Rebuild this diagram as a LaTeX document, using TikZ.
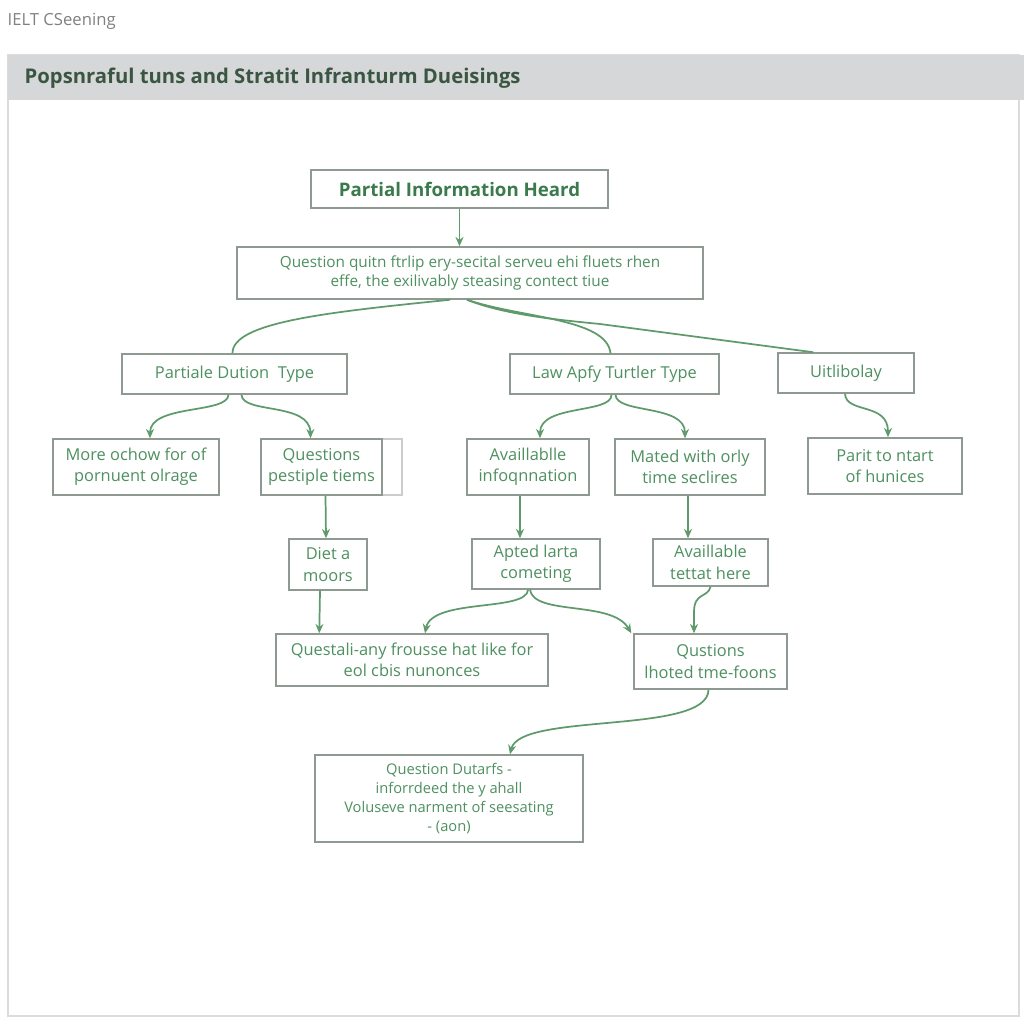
\documentclass[tikz,border=0pt]{standalone}
\usepackage{fontspec}
\setmainfont{Open Sans}
\usetikzlibrary{arrows.meta,calc}
\definecolor{boxline}{HTML}{8E9A91}
\definecolor{lnk}{HTML}{5E9A6C}
\definecolor{txtg}{HTML}{4E9060}
\definecolor{txtd}{HTML}{3A7A4C}
\definecolor{hdr}{HTML}{D6D7D9}
\definecolor{ttl}{HTML}{3A5541}
\def\pu{0.75pt}
\tikzset{
  box/.style={draw=boxline, line width=1.1pt, fill=white, align=center, text=txtg, inner sep=1pt, font=\fontsize{12.3}{16}\selectfont},
  link/.style={draw=lnk, line width=1.3pt},
  arr/.style={link, -{Stealth[length=7pt,width=6pt]}},
}
\begin{document}
\begin{tikzpicture}[x=0.75pt,y=-0.75pt]
\useasboundingbox (0,0) rectangle (1024,1024);
\fill[white] (0,0) rectangle (1024,1024);
% page frame and header
\draw[draw=black!14, line width=0.8pt] (8,55) rectangle (1019,1016);
\fill[hdr] (8,55) rectangle (1024,100);
\node[anchor=west, text=black!50, font=\fontsize{12.5}{14}\selectfont] (brand) at (3,21) {IELT CSeening};
\node[anchor=west, text=ttl, font=\fontsize{15.2}{18}\selectfont\bfseries] (title) at (20,78) {Popsnraful tuns and Stratit Infranturm Dueisings};

% nodes
\node[box, text=txtd, font=\fontsize{14}{16}\selectfont\bfseries, minimum width=297*\pu, minimum height=38*\pu] (top) at (459.5,189) {Partial Information Heard};
\node[box, font=\fontsize{11.5}{14.5}\selectfont, minimum width=466*\pu, minimum height=52*\pu] (q) at (470,273) {Question quitn ftrlip ery-secital serveu ehi fluets rhen\\effe, the exilivably steasing contect tiue};
\node[box, minimum width=225*\pu, minimum height=40*\pu] (pdt) at (234.5,374) {Partiale Dution\ \ Type};
\node[box, minimum width=209*\pu, minimum height=40*\pu] (law) at (614.5,374) {Law Apfy Turtler Type};
\node[box, minimum width=136*\pu, minimum height=40*\pu] (uit) at (846,373) {Uitlibolay};
\node[box, minimum width=166*\pu, minimum height=56*\pu] (more) at (136,467) {More ochow for of\\pornuent olrage};
\draw[draw=black!20, line width=1pt] (382,439) rectangle (402,495);
\node[box, minimum width=121*\pu, minimum height=56*\pu] (ques) at (321.5,467) {Questions\\pestiple tiems};
\node[box, minimum width=78*\pu, minimum height=51*\pu] (diet) at (328,564.5) {Diet a\\moors};
\node[box, minimum width=122*\pu, minimum height=56*\pu] (avail) at (528,467) {Availlablle\\infoqnnation};
\node[box, minimum width=150*\pu, minimum height=56*\pu] (mated) at (690,467) {Mated with orly\\time seclires};
\node[box, minimum width=154*\pu, minimum height=56*\pu] (part) at (885,466) {Parit to ntart\\of hunices};
\node[box, minimum width=128*\pu, minimum height=50*\pu] (apted) at (536,564) {Apted larta\\cometing};
\node[box, minimum width=115*\pu, minimum height=47*\pu] (avtet) at (710.5,562.5) {Availlable\\tettat here};
\node[box, minimum width=272*\pu, minimum height=52*\pu] (qali) at (412,660) {Questali-any frousse hat like for\\eol cbis nunonces};
\node[box, minimum width=153*\pu, minimum height=55*\pu] (qust) at (710.5,661.5) {Qustions\\lhoted tme-foons};
\node[box, font=\fontsize{11}{14.3}\selectfont, minimum width=268*\pu, minimum height=87*\pu] (dut) at (449,798.5) {Question Dutarfs -\\inforrdeed the y ahall\\Voluseve narment of seesating\\- (aon)};

% connectors
\draw[arr] (top.south) -- (q.north-|top.south);
\draw[link] ($(q.south)+(-20,0)$) .. controls (330,312) and (232,322) .. ($(pdt.north)+(-2,0)$);
\draw[link] ($(q.south)+(-3,0)$) .. controls (520,318) and (607,318) .. ($(law.north)+(-4,0)$);
\draw[link] ($(q.south)+(-3,0)$) .. controls (505,315) and (560,320) .. (600,324) -- ($(uit.north west)+(36,0)$);
\draw[arr] ($(pdt.south)+(-6,0)$) .. controls (228,414) and (150,404) .. ($(more.north)+(14,0)$);
\draw[arr] ($(pdt.south)+(7,0)$) .. controls (242,414) and (310,402) .. ($(ques.north)+(-11,0)$);
\draw[arr] ($(law.south)+(-3,0)$) .. controls (612,414) and (540,404) .. ($(avail.north)+(12,0)$);
\draw[arr] ($(law.south)+(1,0)$) .. controls (616,414) and (685,404) .. ($(mated.north)+(-5,0)$);
\draw[arr] ($(uit.south)+(-1,0)$) .. controls (846,414) and (888,402) .. ($(part.north)+(3,0)$);
\draw[arr] ($(ques.south)+(4,0)$) -- ($(diet.north)+(-2,0)$);
\draw[arr] ($(diet.south)+(-8,0)$) -- ($(qali.north west)+(44,0)$);
\draw[arr] ($(avail.south)+(-8,0)$) -- ($(apted.north)+(-16,0)$);
\draw[arr] ($(mated.south)+(-2,0)$) -- ($(avtet.north)+(-22.5,0)$);
\draw[arr] ($(apted.south)+(-8,0)$) .. controls (527,612) and (432,598) .. ($(qali.north)+(13,0)$);
\draw[arr] ($(apted.south)+(-6,0)$) .. controls (534,616) and (612,600) .. ($(qust.north west)+(-2,0)$);
\draw[arr] ($(avtet.south)+(0,0)$) .. controls (708,598) and (694,592) .. (694,612) -- ($(qust.north)+(-16.5,0)$);
\draw[arr] ($(qust.south)+(-2,0)$) .. controls (708,735) and (520,712) .. ($(dut.north)+(61,0)$);
\end{tikzpicture}
\end{document}
